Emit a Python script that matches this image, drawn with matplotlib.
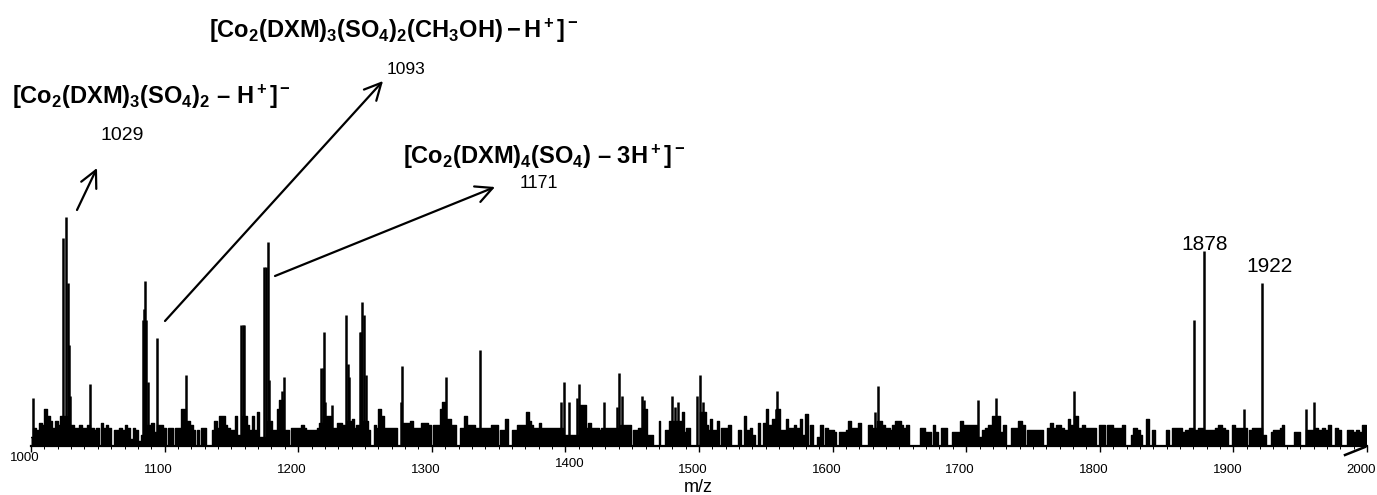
"""ESI-MS spectrum of the Co/DXM sulfate complex, m/z 1000-2000"""

import matplotlib
matplotlib.use("Agg")
import matplotlib.pyplot as plt
import numpy as np
from matplotlib import font_manager
from matplotlib.lines import Line2D
from matplotlib.ticker import MultipleLocator
from matplotlib.transforms import ScaledTranslation

W, H = 1377, 495

# labelled / prominent peaks (m/z, relative intensity %)
peak_mz = [1001.5, 1024.2, 1025.9, 1027.4, 1028.4, 1029.5, 1044.2,
           1083.6, 1084.5, 1085.3, 1086.2, 1087.3, 1094.1, 1115.0, 1116.3,
           1157.4, 1158.6, 1159.8, 1174.6, 1175.9, 1177.2, 1178.4,
           1187.6, 1189.1, 1217.1, 1218.2, 1219.1, 1220.2, 1225.0,
           1235.8, 1237.0, 1238.2, 1246.3, 1247.2, 1248.0, 1249.5, 1250.7,
           1277.0, 1277.9, 1310.9, 1336.3, 1397.0, 1399.0, 1403.0,
           1408.4, 1410.4, 1412.0, 1429.0, 1438.3, 1440.3, 1442.0,
           1457.0, 1458.8, 1480.0, 1482.0, 1484.5, 1498.2, 1500.7, 1502.7,
           1557.6, 1558.6, 1631.7, 1633.7, 1709.0, 1722.6, 1781.0,
           1870.7, 1878.2, 1907.9, 1921.6, 1954.3, 1960.3]
peak_int = [21, 91, 100, 71, 44, 22, 27,
            55, 60, 72, 55, 28, 47, 16, 31,
            53, 53, 53, 78, 78, 89, 29,
            24, 30, 34, 34, 50, 19, 18,
            57, 36, 30, 50, 50, 63, 57, 31,
            19, 35, 30, 42, 19, 28, 19,
            21, 27, 18, 19, 17, 32, 22,
            22, 20, 22, 17, 19, 22, 31, 19,
            16, 24, 15, 26, 20, 21, 24,
            55, 85, 16, 71, 16, 19]

# baseline chemical noise (m/z, relative intensity %)
noise_mz = [1000, 1003, 1005, 1007, 1009, 1011, 1013, 1015, 1017, 1019, 1021, 1022.5,
            1031, 1033, 1035, 1037, 1039, 1041, 1043, 1046, 1048, 1050, 1051.5, 1053,
            1055, 1057, 1059, 1061, 1063, 1065, 1067, 1069, 1071, 1073, 1075, 1077,
            1079, 1081, 1083, 1089, 1091, 1093, 1096, 1098, 1100, 1101.5, 1103, 1105,
            1107, 1109, 1111, 1113, 1118, 1120, 1122, 1123.5, 1125, 1126.5, 1128, 1130,
            1131.5, 1133, 1134.5, 1136, 1138, 1140, 1142, 1144, 1146, 1148, 1150, 1152,
            1153, 1155, 1161, 1162.5, 1164, 1166.5, 1168, 1170, 1172, 1173.5, 1179.5, 1181,
            1183, 1185, 1186.3, 1190.5, 1192, 1193.5, 1195, 1197, 1199, 1201, 1203, 1205,
            1207, 1209, 1211, 1213, 1215, 1216, 1221.5, 1223, 1226, 1227.5, 1228.5, 1230,
            1232, 1233.5, 1239.5, 1241, 1243, 1244, 1252, 1253, 1254.5, 1256, 1257.5, 1259,
            1261, 1263, 1265, 1267, 1269, 1271, 1273, 1274.5, 1276, 1280, 1282, 1285,
            1287, 1289, 1291, 1292.5, 1294.5, 1296.5, 1298.5, 1300, 1301.5, 1303.5, 1305.5, 1307,
            1308.5, 1312, 1313.5, 1315, 1317, 1318.6, 1320, 1321.5, 1323, 1325.3, 1327, 1329,
            1331, 1333.5, 1338, 1340, 1342, 1343.5, 1345, 1347, 1348.5, 1350.5, 1352, 1354,
            1356, 1357.5, 1359.5, 1361, 1363, 1364.5, 1366, 1368, 1370, 1371.5, 1373.5, 1375,
            1377, 1379, 1381, 1383, 1385, 1387, 1389, 1391, 1393, 1395, 1401, 1405,
            1406.5, 1414.5, 1416, 1418.4, 1420, 1422, 1424, 1426, 1427.5, 1431, 1433, 1435,
            1437, 1444.6, 1446.5, 1448.3, 1450, 1451.5, 1453.3, 1455, 1460.8, 1462, 1464.5, 1466,
            1468, 1469.5, 1470.3, 1472, 1473.5, 1475, 1476.5, 1478, 1486, 1488, 1489.5, 1491,
            1492.5, 1494, 1495.5, 1497, 1504.5, 1506, 1507, 1509, 1511, 1513, 1514.5, 1515.7,
            1517.7, 1519.2, 1520.7, 1523, 1524.5, 1526.5, 1528.5, 1530, 1532.5, 1534.4, 1536, 1537.7,
            1538.7, 1540.7, 1543, 1545, 1547, 1549.4, 1551, 1553, 1555.6, 1560, 1562, 1564,
            1565.6, 1568, 1570, 1571.8, 1573.6, 1575, 1576.8, 1578, 1580.6, 1582.5, 1584.3, 1586,
            1588, 1589.3, 1591.8, 1593.5, 1595.6, 1598, 1600, 1601.8, 1603.5, 1605.5, 1607.5, 1609.3,
            1611, 1612.5, 1615, 1618, 1620.5, 1622, 1624, 1625.5, 1628, 1630.5, 1635.5, 1638,
            1640, 1641.7, 1643.5, 1646, 1648, 1650, 1651.7, 1654, 1656, 1658, 1660, 1662,
            1664, 1666.7, 1668, 1670.4, 1673, 1674.5, 1676, 1678, 1680, 1682.4, 1685, 1687,
            1689, 1690.4, 1692, 1694, 1696.6, 1699, 1701.6, 1704, 1706.6, 1710.3, 1712.8, 1715,
            1717.8, 1720.3, 1724, 1726.6, 1729, 1731, 1733, 1734, 1736, 1737.8, 1740.3, 1742.8,
            1744.5, 1746.5, 1749, 1751.5, 1754, 1756.5, 1759, 1761.5, 1764, 1766.5, 1768, 1769.7,
            1772, 1774.7, 1777, 1779, 1782.7, 1785, 1787.7, 1790, 1793, 1796.4, 1798.5, 1800.5,
            1802.6, 1804.6, 1806.3, 1808.8, 1810.6, 1812, 1813.8, 1815.6, 1817.6, 1819.5, 1821, 1822.6,
            1823.8, 1826.3, 1828.8, 1830.8, 1832.5, 1834, 1835.8, 1838, 1840, 1842, 1844, 1846,
            1848, 1850.8, 1852.5, 1855, 1857.5, 1860, 1862.5, 1865, 1868, 1872.5, 1875, 1880,
            1882.5, 1885, 1887, 1890, 1892.4, 1895, 1897.5, 1900.4, 1902.4, 1905, 1909.4, 1911,
            1912.9, 1914.9, 1917.4, 1918.9, 1923.6, 1925.5, 1927, 1928.6, 1931.1, 1933.6, 1936, 1937.3,
            1939, 1941, 1943, 1945, 1946, 1948.6, 1950.5, 1952, 1956, 1958.5, 1962.3, 1964.8,
            1967.3, 1969.8, 1972.3, 1974.5, 1977.2, 1979.7, 1982, 1984, 1986, 1988.5, 1991, 1992.7,
            1994.7, 1997.2, 1999, 2000]
noise_int = [4, 8, 7, 10, 9, 16, 13, 11, 8, 11, 9, 13,
             9, 8, 8, 9, 8, 8, 9, 8, 7, 8, 0, 10,
             8, 9, 8, 0, 7, 7, 8, 7, 9, 8, 3, 8,
             7, 2, 5, 9, 10, 6, 9, 9, 8, 0, 8, 8,
             0, 8, 8, 16, 11, 9, 7, 0, 7, 0, 8, 8,
             0, 0, 0, 7, 11, 8, 13, 13, 9, 8, 7, 7,
             13, 5, 13, 9, 7, 13, 7, 15, 4, 4, 11, 7,
             7, 16, 20, 7, 7, 0, 8, 8, 8, 8, 9, 8,
             7, 7, 7, 7, 8, 10, 13, 13, 8, 8, 0, 10,
             10, 9, 11, 12, 8, 9, 11, 7, 0, 0, 9, 8,
             16, 13, 8, 8, 8, 8, 8, 0, 0, 10, 10, 11,
             8, 8, 8, 10, 10, 10, 9, 0, 9, 9, 9, 16,
             19, 12, 12, 9, 9, 0, 0, 8, 8, 13, 9, 9,
             9, 8, 8, 8, 8, 8, 9, 9, 9, 0, 7, 7,
             12, 0, 0, 7, 7, 9, 9, 9, 9, 15, 11, 9,
             8, 8, 10, 8, 8, 8, 8, 8, 8, 8, 5, 5,
             5, 18, 8, 10, 8, 8, 8, 7, 8, 8, 8, 8,
             8, 9, 9, 9, 0, 7, 7, 8, 16, 5, 5, 0,
             0, 0, 11, 0, 0, 7, 7, 11, 11, 15, 6, 8,
             8, 0, 0, 0, 15, 9, 7, 12, 7, 7, 11, 0,
             8, 8, 8, 9, 0, 0, 0, 7, 0, 13, 7, 7,
             8, 5, 0, 10, 0, 10, 16, 9, 12, 16, 7, 7,
             12, 8, 8, 9, 8, 8, 12, 5, 14, 0, 9, 0,
             0, 4, 9, 0, 8, 7, 7, 6, 0, 6, 6, 6,
             7, 11, 8, 8, 10, 0, 0, 0, 9, 8, 11, 9,
             8, 8, 7, 9, 11, 11, 9, 8, 9, 0, 0, 0,
             0, 8, 8, 6, 6, 0, 9, 6, 0, 8, 8, 0,
             0, 6, 6, 6, 11, 9, 9, 9, 9, 4, 7, 8,
             9, 13, 13, 6, 9, 0, 0, 8, 8, 8, 11, 9,
             0, 7, 7, 7, 7, 7, 0, 8, 10, 8, 9, 9,
             8, 7, 12, 9, 13, 8, 9, 8, 8, 8, 0, 9,
             9, 0, 9, 9, 8, 8, 8, 8, 9, 0, 0, 0,
             5, 8, 7, 5, 0, 0, 12, 0, 7, 0, 0, 0,
             0, 7, 0, 8, 8, 8, 6, 7, 8, 7, 8, 7,
             7, 7, 8, 9, 8, 7, 0, 9, 8, 8, 8, 0,
             7, 8, 8, 8, 5, 0, 0, 6, 7, 7, 8, 9,
             0, 0, 0, 0, 6, 6, 0, 0, 7, 7, 8, 7,
             8, 7, 9, 0, 8, 7, 0, 0, 7, 7, 6, 7,
             6, 9, 9, 0]

tick_values = list(range(1000, 2001, 100))


def pick_font(names):
    for name in names:
        try:
            font_manager.findfont(name, fallback_to_default=False)
            return name
        except ValueError:
            continue
    return "DejaVu Sans"


PLAIN = pick_font(["Liberation Sans", "Arimo", "DejaVu Sans"])
NARROW = pick_font(["Liberation Sans Narrow", "Liberation Sans", "DejaVu Sans"])

plt.rcParams["font.family"] = [PLAIN, "DejaVu Sans"]
plt.rcParams["mathtext.fontset"] = "custom"
plt.rcParams["mathtext.rm"] = NARROW
plt.rcParams["mathtext.bf"] = NARROW + ":bold"
plt.rcParams["mathtext.it"] = NARROW + ":italic"


def fpos(x, y):
    """image pixel -> figure fraction"""
    return (x / W, 1 - y / H)


fig = plt.figure(figsize=(W / 100, H / 100), dpi=100)
ax = fig.add_axes([31 / W, 49 / H, 1336 / W, 446 / H])

order = np.argsort(noise_mz)
nmz = np.asarray(noise_mz, float)[order]
nint = np.asarray(noise_int, float)[order]
ax.fill_between(nmz, nint, step="mid", color="black", lw=0)
ax.step(nmz, nint, where="mid", color="black", lw=1.0)
ax.vlines(peak_mz, 0, peak_int, color="black", lw=1.8)

ax.set_xlim(1000, 2000)
ax.set_ylim(0, 446 / 2.29)
for side in ["left", "top", "right"]:
    ax.spines[side].set_visible(False)
ax.spines["bottom"].set_linewidth(1.6)
ax.set_yticks([])

ax.set_xticks(tick_values)
ax.set_xticklabels([str(v) for v in tick_values])
ax.xaxis.set_minor_locator(MultipleLocator(10))
ax.tick_params(axis="x", which="major", length=4, width=1.0, direction="out",
               pad=9, labelsize=9.5)
ax.tick_params(axis="x", which="minor", length=2.5, width=0.7, direction="out")

# the original labels sit a little left of their ticks, 1000/1400 higher
for lab, v in zip(ax.get_xticklabels(), tick_values):
    dx, dy = -6, 0
    if v == 1000:
        dy = 12
    elif v == 1400:
        dx, dy = 4, 6
    lab.set_transform(lab.get_transform() + ScaledTranslation(dx / 100, dy / 100, fig.dpi_scale_trans))

ax.set_xlabel("m/z", fontsize=13)
ax.xaxis.set_label_coords((698 - 31) / 1336, -(479 - 446) / 446)

# axis break mark at the right end
fig.add_artist(Line2D([1345 / W, 1365 / W], [1 - 455 / H, 1 - 447 / H],
                      transform=fig.transFigure, color="black", lw=1.8))

# assignments
bold = dict(ha="left", va="center", fontsize=17)
fig.text(*fpos(209, 31), r"$\mathbf{[Co_2(DXM)_3(SO_4)_2(CH_3OH)-H^+]^-}$", **bold)
fig.text(*fpos(12, 97), r"$\mathbf{[Co_2(DXM)_3(SO_4)_2\ –\ H^+]^-}$", **bold)
fig.text(*fpos(403, 157), r"$\mathbf{[Co_2(DXM)_4(SO_4)\ –\ 3H^+]^-}$", **bold)

fig.text(*fpos(387, 69), "1093", ha="left", va="center", fontsize=12.5)
fig.text(*fpos(100, 135), "1029", ha="left", va="center", fontsize=14)
fig.text(*fpos(520, 184), "1171", ha="left", va="center", fontsize=13)
fig.text(*fpos(1205, 244), "1878", ha="center", va="center", fontsize=15)
fig.text(*fpos(1270, 266), "1922", ha="center", va="center", fontsize=15)

arrow = dict(arrowstyle="->,head_length=0.6,head_width=0.3", lw=1.6, color="black",
             shrinkA=0, shrinkB=0, mutation_scale=20)
for start, end in [((77, 210), (97, 168)), ((165, 321), (383, 81)), ((275, 276), (495, 187))]:
    ax.annotate("", xy=fpos(*end), xytext=fpos(*start), xycoords="figure fraction",
                textcoords="figure fraction", arrowprops=arrow)

fig.savefig("out.png", dpi=100)
